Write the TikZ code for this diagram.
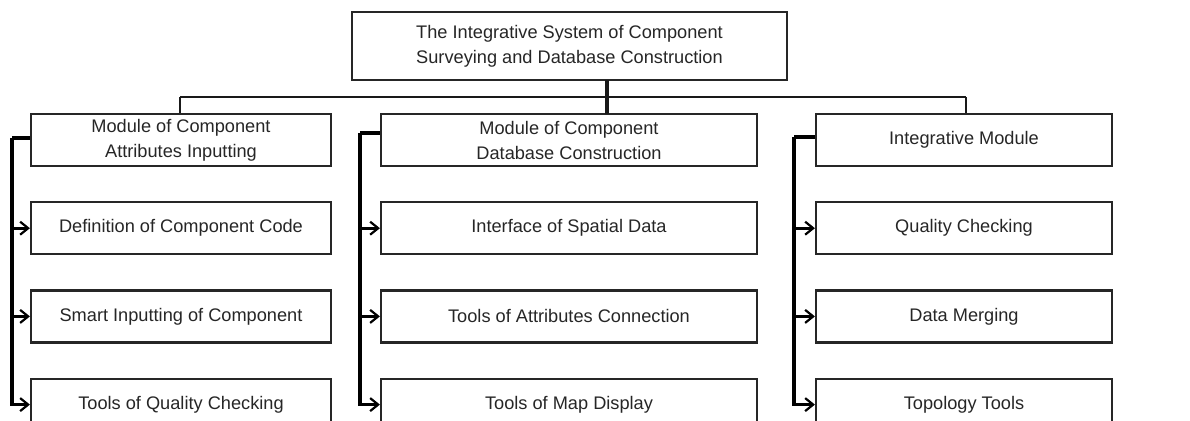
\documentclass[tikz,border=0pt]{standalone}
\usepackage{fontspec}
\setmainfont{Liberation Sans}
\usetikzlibrary{positioning,arrows.meta}

\begin{document}
\begin{tikzpicture}[x=1pt, y=-1pt, node distance=34pt,
    box/.style={draw=black!85, rectangle, line width=2.2pt, minimum height=52pt, align=center, text=black!85, inner sep=0pt},
    link/.style={line width=2.4pt, draw=black!90},
    rail/.style={line width=3.4pt, -{Straight Barb[length=8pt,width=13pt,line width=2.2pt]}}]
        \useasboundingbox (0,0) rectangle (1190,420);
        \fontsize{18.2}{25}\selectfont
        \node[box, minimum width=435pt, minimum height=68pt] (sys) at (569.5,46) {The Integrative System of Component\\Surveying and Database Construction};
        \node[box, minimum width=300pt] (modA) at (181,140) {Module of Component\\Attributes Inputting};
        \node[box, minimum width=376pt] (modB) at (569,140) {Module of Component\\Database Construction};
        \node[box, minimum width=296pt] (modC) at (964,140) {Integrative Module};

        \node[box, minimum width=300pt, below=of modA] (a1) {Definition of Component Code};
        \node[box, minimum width=300pt, below=of a1] (a2) {Smart Inputting of Component};
        \node[box, minimum width=300pt, below=of a2] (a3) {Tools of Quality Checking};
        \node[box, minimum width=376pt, below=of modB] (b1) {Interface of Spatial Data};
        \node[box, minimum width=376pt, below=of b1] (b2) {Tools of Attributes Connection};
        \node[box, minimum width=376pt, below=of b2] (b3) {Tools of Map Display};
        \node[box, minimum width=296pt, below=of modC] (c1) {Quality Checking};
        \node[box, minimum width=296pt, below=of c1] (c2) {Data Merging};
        \node[box, minimum width=296pt, below=of c2] (c3) {Topology Tools};

        % bus from the system box
        \coordinate (busA) at (180,97);
        \coordinate (busC) at (966,97);
        \draw[link, line width=3.4pt] (607,80) -- (607,114);
        \draw[link] (busA) -- (busC);
        \draw[link] (busA) -- (busA |- modA.north);
        \draw[link] (busC) -- (busC |- modC.north);

        % rails to the tools
        \coordinate (railA) at (12,138);
        \coordinate (railB) at (360,133);
        \coordinate (railC) at (794,137);
        \draw[line width=3.4pt] (modA.west |- railA) -- (railA);
        \draw[line width=3.4pt] (modB.west |- railB) -- (railB);
        \draw[line width=3.4pt] (modC.west |- railC) -- (railC);
        \draw[rail] (railA) |- (a3.west);
        \draw[rail] (railB) |- (b3.west);
        \draw[rail] (railC) |- (c3.west);
        \draw[rail] (railA |- a1.west) -- (a1.west);
        \draw[rail] (railA |- a2.west) -- (a2.west);
        \draw[rail] (railB |- b1.west) -- (b1.west);
        \draw[rail] (railB |- b2.west) -- (b2.west);
        \draw[rail] (railC |- c1.west) -- (c1.west);
        \draw[rail] (railC |- c2.west) -- (c2.west);
    \end{tikzpicture}
\end{document}
